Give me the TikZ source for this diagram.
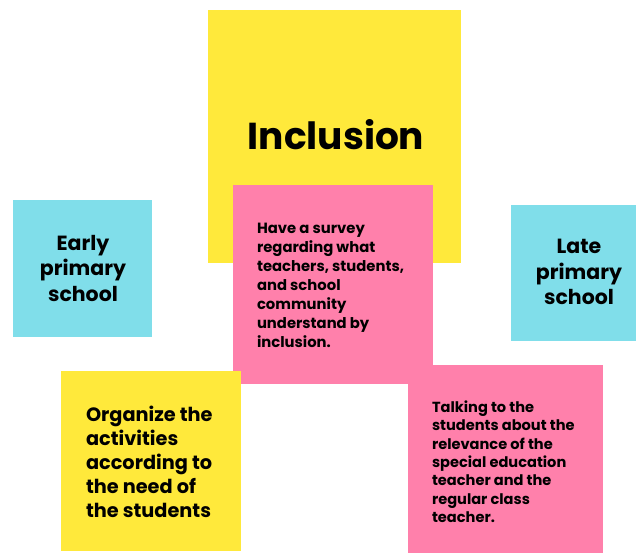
\documentclass[tikz,border=0pt]{standalone}
\usepackage{fontspec}
\setmainfont{Poppins}
\definecolor{noteyellow}{HTML}{FFE93B}
\definecolor{notepink}{HTML}{FF80AB}
\definecolor{notecyan}{HTML}{80DEEA}
\tikzset{
  note/.style={draw=none, inner sep=0pt, outer sep=0pt, anchor=north west},
  notetext/.style={inner sep=0pt, outer sep=0pt, text=black, font=\bfseries},
}
\begin{document}
\begin{tikzpicture}[x=1pt,y=-1pt]
  \useasboundingbox[fill=white] (0,0) rectangle (636,553);

  % sticky notes, back to front
  \node[note, fill=noteyellow, minimum width=253pt, minimum height=253pt] (inclbox) at (208,10) {};
  \node[note, fill=notepink, minimum width=200pt, minimum height=199pt] (surveybox) at (233,185) {};
  \node[note, fill=notepink, minimum width=195pt, minimum height=188pt] (talkbox) at (408,365) {};
  \node[note, fill=notecyan, minimum width=139pt, minimum height=137pt] (earlybox) at (13,200) {};
  \node[note, fill=notecyan, minimum width=125pt, minimum height=136pt] (latebox) at (511,205) {};
  \node[note, fill=noteyellow, minimum width=180pt, minimum height=180pt] (orgbox) at (61,371) {};

  % texts
  \node[notetext, anchor=base, font=\fontsize{37.5}{45}\selectfont\bfseries] (incl) at (336,150) {Inclusion};

  \node[notetext, anchor=north, align=center, font=\fontsize{20.5}{25.5}\selectfont\bfseries] (early) at (83,235) {Early\\primary\\school};
  \node[notetext, anchor=north, align=center, font=\fontsize{20.5}{25.5}\selectfont\bfseries] (late) at (579,239.5) {Late\\primary\\school};

  \node[notetext, anchor=north west, align=left, font=\fontsize{14.8}{19}\selectfont\bfseries] (survey) at (257,223) {Have a survey\\regarding what\\teachers, students,\\and school\\community\\understand by\\inclusion.};

  \node[notetext, anchor=north west, align=left, font=\fontsize{19.3}{24}\selectfont\bfseries] (org) at (86,406) {Organize the\\activities\\according to\\the need of\\the students};

  \node[notetext, anchor=north west, align=left, font=\fontsize{14.6}{18.3}\selectfont\bfseries] (talk) at (432,401) {Talking to the\\students about the\\relevance of the\\special education\\teacher and the\\regular class\\teacher.};
\end{tikzpicture}
\end{document}
